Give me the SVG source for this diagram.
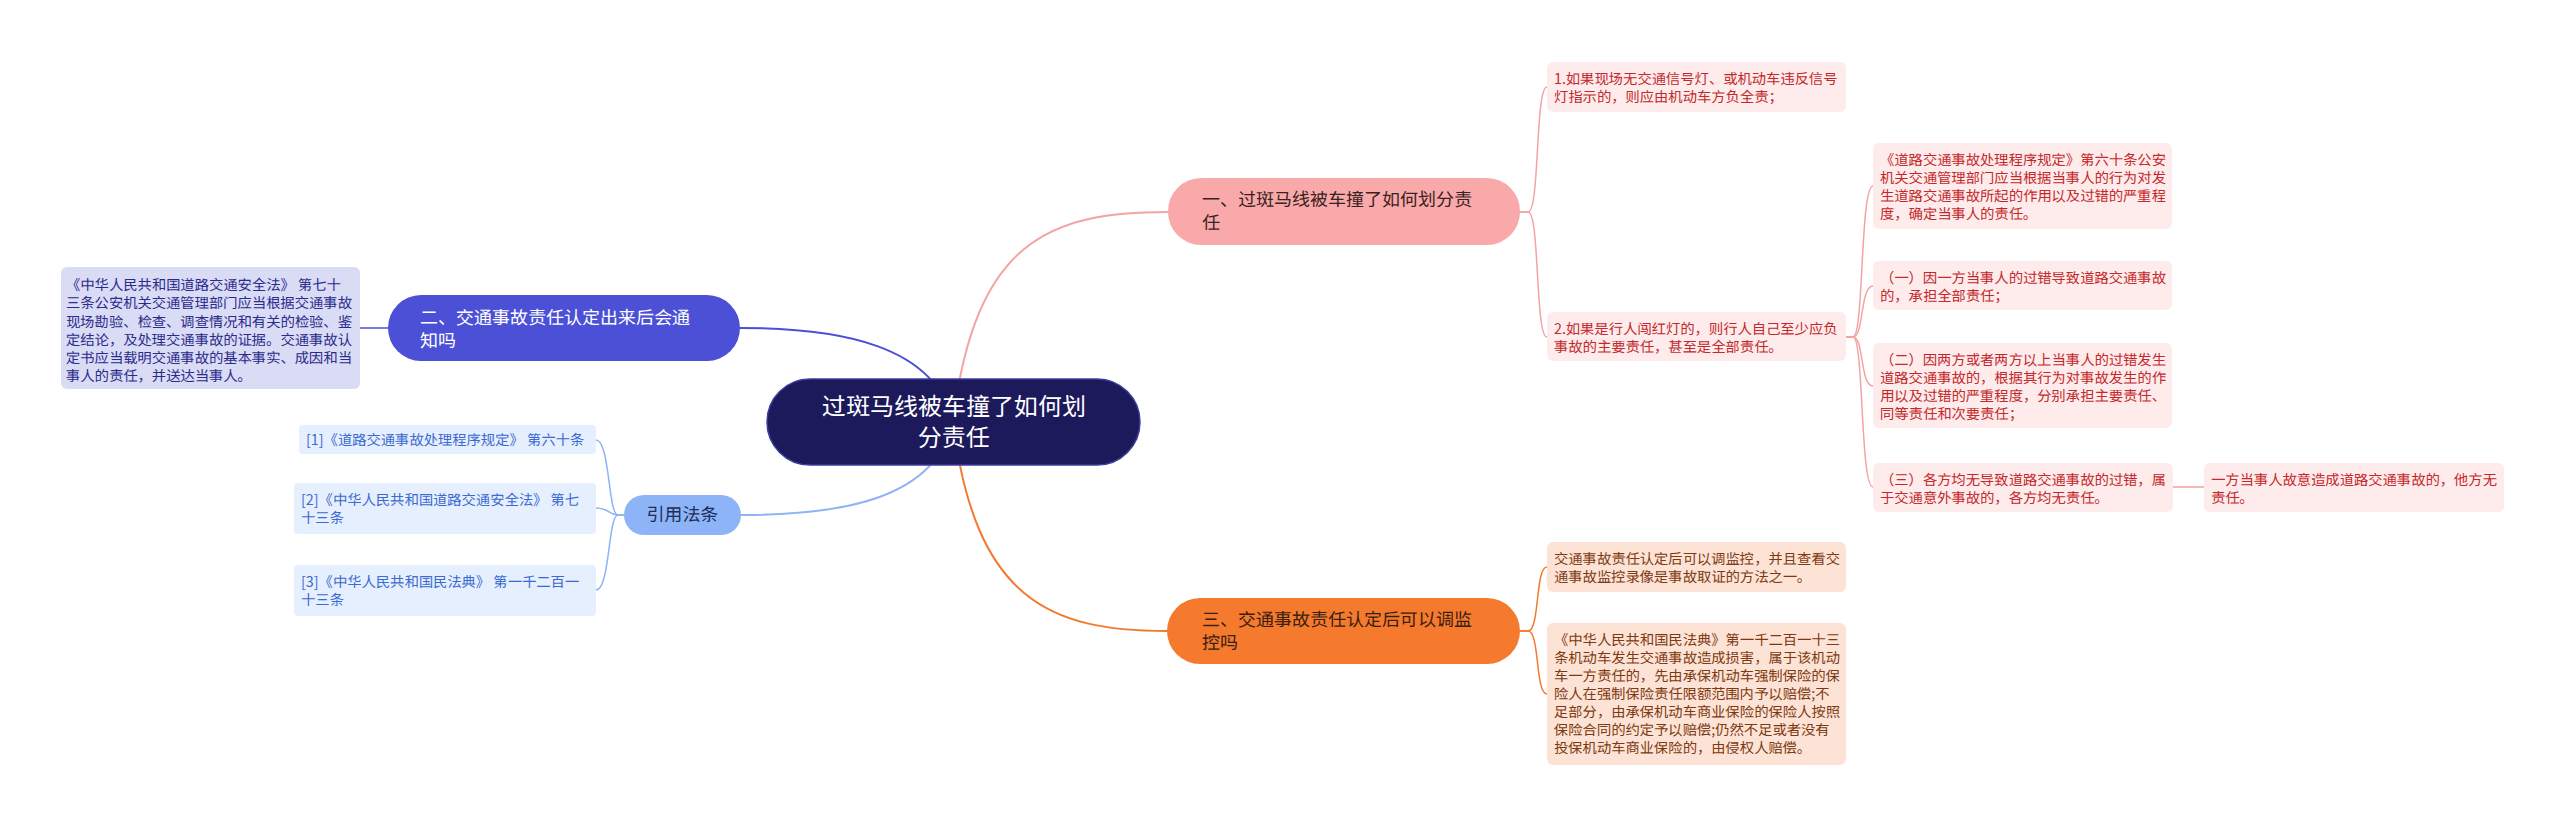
<svg xmlns="http://www.w3.org/2000/svg" width="2560" height="827" viewBox="0 0 2560 827">
<style>
text{font-family:"Noto Sans SC","Noto Sans CJK SC",sans-serif;}
.bx{font-size:14.3px;}
.pk{fill:#fdeceb;}
.pkt{fill:#c4282b;}
.og{fill:#fde3d5;}
.ogt{fill:#7d3a12;}
.rf{fill:#e6effd;}
.rft{fill:#3b6ad1;}
.cn{fill:none;stroke-linecap:round;}
</style>
<rect width="2560" height="827" fill="#ffffff"/>
<g id="connectors">
<path class="cn" stroke="#f4a3a3" stroke-width="2" d="M953,422 C975,240 1050,212 1168,212"/>
<path class="cn" stroke="#f27a30" stroke-width="2" d="M953,422 C975,600 1050,631 1167,631"/>
<path class="cn" stroke="#4b50d6" stroke-width="2" d="M953,422 C935,345 840,328 740,328"/>
<path class="cn" stroke="#8db4f7" stroke-width="2" d="M953,422 C935,500 840,515 741,515"/>
<path class="cn" stroke="#f4a3a3" stroke-width="1.5" d="M1520,212 L1528,212 C1540,212 1535,87 1547,87"/>
<path class="cn" stroke="#f4a3a3" stroke-width="1.5" d="M1520,212 L1528,212 C1540,212 1535,337 1547,337"/>
<path class="cn" stroke="#f4a3a3" stroke-width="1.5" d="M1846,337 L1853,337 C1864,337 1860,186 1873,186"/>
<path class="cn" stroke="#f4a3a3" stroke-width="1.5" d="M1846,337 L1853,337 C1864,337 1860,286 1873,286"/>
<path class="cn" stroke="#f4a3a3" stroke-width="1.5" d="M1846,337 L1853,337 C1864,337 1860,386 1873,386"/>
<path class="cn" stroke="#f4a3a3" stroke-width="1.5" d="M1846,337 L1853,337 C1864,337 1860,487 1873,487"/>
<path class="cn" stroke="#f4a3a3" stroke-width="1.5" d="M2173,487 L2204,487"/>
<path class="cn" stroke="#f27a30" stroke-width="1.5" d="M1520,631 L1528,631 C1540,631 1535,567 1547,567"/>
<path class="cn" stroke="#f27a30" stroke-width="1.5" d="M1520,631 L1528,631 C1540,631 1535,694 1547,694"/>
<path class="cn" stroke="#4b50d6" stroke-width="1.5" d="M388,328 L360,328"/>
<path class="cn" stroke="#8db4f7" stroke-width="1.5" d="M624,515 L618,515 C608,515 610,440 596,440"/>
<path class="cn" stroke="#8db4f7" stroke-width="1.5" d="M624,515 L618,515 C608,515 610,508 596,508"/>
<path class="cn" stroke="#8db4f7" stroke-width="1.5" d="M624,515 L618,515 C608,515 610,590 596,590"/>
</g>
<g id="center">
<rect x="767" y="379" width="373" height="86" rx="43" fill="#1d1a5c" stroke="#3c3c9c" stroke-width="1.5"/>
<text x="954" y="415" font-size="24" fill="#ffffff" text-anchor="middle">过斑马线被车撞了如何划</text>
<text x="954" y="446" font-size="24" fill="#ffffff" text-anchor="middle">分责任</text>
</g>
<g id="n1">
<rect x="1168" y="178" width="352" height="67" rx="33" fill="#f9a9a9"/>
<text x="1202" y="206" font-size="18" fill="#3a2222">一、过斑马线被车撞了如何划分责</text>
<text x="1202" y="229" font-size="18" fill="#3a2222">任</text>
</g>
<g id="n1a" class="bx">
<rect class="pk" x="1547" y="62" width="299" height="50" rx="6"/>
<text class="pkt" x="1554" y="84">1.如果现场无交通信号灯、或机动车违反信号</text>
<text class="pkt" x="1554" y="102">灯指示的，则应由机动车方负全责；</text>
</g>
<g id="n1b" class="bx">
<rect class="pk" x="1547" y="312" width="299" height="49" rx="6"/>
<text class="pkt" x="1554" y="334">2.如果是行人闯红灯的，则行人自己至少应负</text>
<text class="pkt" x="1554" y="352">事故的主要责任，甚至是全部责任。</text>
</g>
<g id="n1b1" class="bx">
<rect class="pk" x="1873" y="143" width="299" height="86" rx="6"/>
<text class="pkt" x="1880" y="165">《道路交通事故处理程序规定》第六十条公安</text>
<text class="pkt" x="1880" y="183">机关交通管理部门应当根据当事人的行为对发</text>
<text class="pkt" x="1880" y="201">生道路交通事故所起的作用以及过错的严重程</text>
<text class="pkt" x="1880" y="219">度，确定当事人的责任。</text>
</g>
<g id="n1b2" class="bx">
<rect class="pk" x="1873" y="261" width="299" height="49" rx="6"/>
<text class="pkt" x="1880" y="283">（一）因一方当事人的过错导致道路交通事故</text>
<text class="pkt" x="1880" y="301">的，承担全部责任；</text>
</g>
<g id="n1b3" class="bx">
<rect class="pk" x="1873" y="343" width="299" height="85" rx="6"/>
<text class="pkt" x="1880" y="365">（二）因两方或者两方以上当事人的过错发生</text>
<text class="pkt" x="1880" y="383">道路交通事故的，根据其行为对事故发生的作</text>
<text class="pkt" x="1880" y="401">用以及过错的严重程度，分别承担主要责任、</text>
<text class="pkt" x="1880" y="419">同等责任和次要责任；</text>
</g>
<g id="n1b4" class="bx">
<rect class="pk" x="1873" y="463" width="300" height="49" rx="6"/>
<text class="pkt" x="1880" y="485">（三）各方均无导致道路交通事故的过错，属</text>
<text class="pkt" x="1880" y="503">于交通意外事故的，各方均无责任。</text>
</g>
<g id="n1b4a" class="bx">
<rect class="pk" x="2204" y="463" width="300" height="49" rx="6"/>
<text class="pkt" x="2211" y="485">一方当事人故意造成道路交通事故的，他方无</text>
<text class="pkt" x="2211" y="503">责任。</text>
</g>
<g id="n3">
<rect x="1167" y="598" width="353" height="66" rx="33" fill="#f57a2e"/>
<text x="1202" y="626" font-size="18" fill="#3a2010">三、交通事故责任认定后可以调监</text>
<text x="1202" y="649" font-size="18" fill="#3a2010">控吗</text>
</g>
<g id="n3a" class="bx">
<rect class="og" x="1547" y="542" width="299" height="50" rx="6"/>
<text class="ogt" x="1554" y="564">交通事故责任认定后可以调监控，并且查看交</text>
<text class="ogt" x="1554" y="582">通事故监控录像是事故取证的方法之一。</text>
</g>
<g id="n3b" class="bx">
<rect class="og" x="1547" y="623" width="299" height="142" rx="6"/>
<text class="ogt" x="1554" y="645">《中华人民共和国民法典》第一千二百一十三</text>
<text class="ogt" x="1554" y="663">条机动车发生交通事故造成损害，属于该机动</text>
<text class="ogt" x="1554" y="681">车一方责任的，先由承保机动车强制保险的保</text>
<text class="ogt" x="1554" y="699">险人在强制保险责任限额范围内予以赔偿;不</text>
<text class="ogt" x="1554" y="717">足部分，由承保机动车商业保险的保险人按照</text>
<text class="ogt" x="1554" y="735">保险合同的约定予以赔偿;仍然不足或者没有</text>
<text class="ogt" x="1554" y="753">投保机动车商业保险的，由侵权人赔偿。</text>
</g>
<g id="n2">
<rect x="388" y="295" width="352" height="66" rx="33" fill="#4b50d6"/>
<text x="420" y="324" font-size="18" fill="#ffffff">二、交通事故责任认定出来后会通</text>
<text x="420" y="347" font-size="18" fill="#ffffff">知吗</text>
</g>
<g id="n2a" class="bx">
<rect x="61" y="267" width="299" height="122" rx="6" fill="#dadbf5"/>
<text x="66" y="290" fill="#2b2b8c">《中华人民共和国道路交通安全法》 第七十</text>
<text x="66" y="308" fill="#2b2b8c">三条公安机关交通管理部门应当根据交通事故</text>
<text x="66" y="327" fill="#2b2b8c">现场勘验、检查、调查情况和有关的检验、鉴</text>
<text x="66" y="345" fill="#2b2b8c">定结论，及处理交通事故的证据。交通事故认</text>
<text x="66" y="363" fill="#2b2b8c">定书应当载明交通事故的基本事实、成因和当</text>
<text x="66" y="381" fill="#2b2b8c">事人的责任，并送达当事人。</text>
</g>
<g id="n4">
<rect x="624" y="495" width="117" height="40" rx="20" fill="#8db4f7"/>
<text x="682.5" y="521" font-size="18" fill="#1f2d5a" text-anchor="middle">引用法条</text>
</g>
<g id="ref1" class="bx">
<rect class="rf" x="299" y="425" width="297" height="29" rx="4"/>
<text class="rft" x="306" y="445">[1]《道路交通事故处理程序规定》 第六十条</text>
</g>
<g id="ref2" class="bx">
<rect class="rf" x="294" y="483" width="302" height="51" rx="4"/>
<text class="rft" x="301" y="505">[2]《中华人民共和国道路交通安全法》 第七</text>
<text class="rft" x="301" y="523">十三条</text>
</g>
<g id="ref3" class="bx">
<rect class="rf" x="294" y="565" width="302" height="51" rx="4"/>
<text class="rft" x="301" y="587">[3]《中华人民共和国民法典》 第一千二百一</text>
<text class="rft" x="301" y="605">十三条</text>
</g>
</svg>
